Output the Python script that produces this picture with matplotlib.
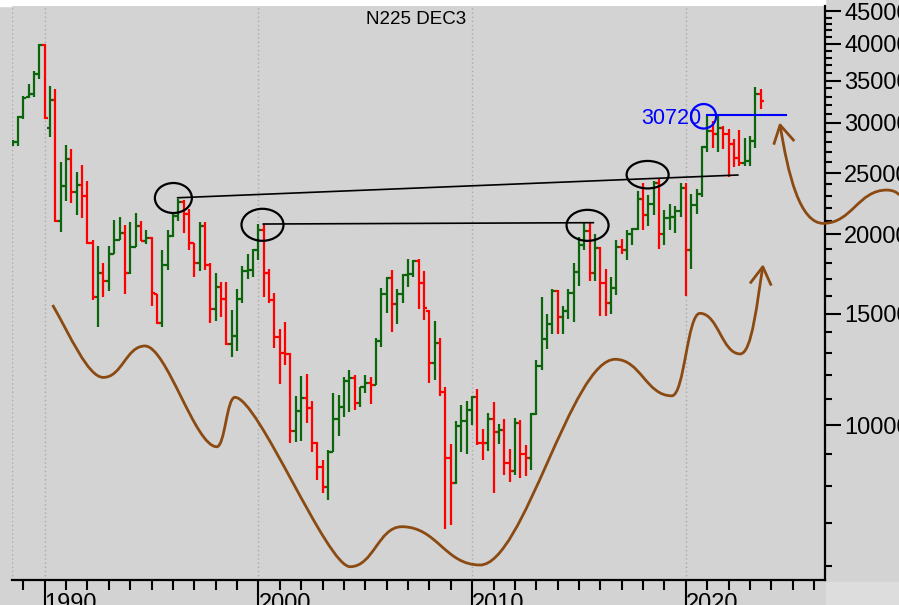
import matplotlib
matplotlib.use('Agg')
import matplotlib.pyplot as plt
import numpy as np
from matplotlib.patches import Ellipse, PathPatch, Rectangle
from matplotlib.path import Path
from matplotlib.transforms import ScaledTranslation
from matplotlib.ticker import FixedLocator, NullFormatter

plt.rcParams['font.family'] = ['Liberation Sans', 'DejaVu Sans']

# quarterly bars, first bar is 1988 Q3
first_quarter = 1988.5

opens = [27800, 28000,
         30600, 33000, 33300, 35900,
         39800, 29500, 32600, 21000,
         23850, 26300, 23300, 23900,
         23000, 19350, 15950, 17400,
         16900, 18600, 19600, 20100,
         17400, 19100, 20650, 19560,
         19720, 16100, 14500, 17900,
         19870, 21400, 22530, 21550,
         19360, 18000, 20600, 17900,
         15260, 16530, 15830, 13410,
         13840, 15840, 17530, 17600,
         18930, 20340, 17410, 15750,
         13790, 13000, 12970, 9775,
         10540, 11030, 10620, 9380,
         8580, 7970, 9080, 10220,
         10680, 11715, 11860, 10820,
         11490, 11670, 11580, 13570,
         16110, 17060, 15500, 16130,
         17230, 17290, 18140, 16790,
         15150, 12530, 13480, 11260,
         8860, 8110, 9960, 10130,
         10550, 11090, 9380, 9370,
         10230, 9755, 9816, 8700,
         8455, 10080, 9010, 8870,
         10395, 12400, 13680, 14460,
         16290, 14830, 15160, 16170,
         17450, 19210, 20240, 17390,
         19030, 16760, 15580, 16450,
         19110, 18910, 20030, 20360,
         22760, 21450, 22300, 24120,
         20010, 21210, 21280, 21760,
         23660, 18920, 22290, 23190,
         27440, 29180, 28790, 29450,
         28790, 27820, 26390, 25940,
         26090, 28040, 33300]

highs = [28200, 30800,
         33100, 34600, 36200, 40000,
         39900, 34300, 33900, 26000,
         27700, 27300, 25100, 25700,
         24300, 19600, 19200, 18000,
         19200, 21100, 21300, 20700,
         20900, 21600, 21000, 20300,
         19800, 16100, 18900, 20300,
         21700, 22750, 22700, 21900,
         19400, 20900, 20900, 18000,
         17400, 16800, 16800, 15200,
         16400, 17800, 18600, 18950,
         20800, 20750, 17650, 16150,
         14200, 14550, 13000, 11100,
         11950, 12050, 10900, 9400,
         8800, 9140, 11240, 11160,
         11900, 12200, 11990, 11500,
         11980, 11900, 13700, 16450,
         17150, 17560, 16400, 17300,
         18300, 18250, 18300, 17500,
         15200, 14600, 13700, 11480,
         9320, 10150, 10770, 10900,
         11100, 11400, 9850, 10430,
         10890, 10020, 10210, 9150,
         10250, 10190, 9290, 10430,
         12650, 15950, 15000, 16380,
         16320, 15400, 16380, 18030,
         19780, 20950, 20950, 20010,
         19100, 17610, 17100, 19590,
         19670, 20320, 20480, 23380,
         24130, 23050, 24290, 24450,
         21860, 22360, 22180, 24090,
         24120, 23190, 23560, 27600,
         30720, 30210, 30800, 29700,
         29390, 28340, 29220, 28380,
         28620, 34200, 33900]

lows = [27600, 27600,
        30400, 32900, 33000, 35200,
        30400, 28500, 20900, 20200,
        22600, 22400, 21500, 21200,
        19300, 15750, 14300, 15950,
        16300, 18600, 19600, 16100,
        17300, 19100, 19550, 19300,
        15400, 14450, 14300, 17600,
        19800, 21000, 20100, 18900,
        17150, 17500, 17600, 14500,
        14600, 14800, 13400, 12800,
        13100, 15600, 17000, 17100,
        18200, 15950, 15600, 13250,
        11600, 12450, 9380, 9400,
        9420, 10070, 9050, 8200,
        7800, 7600, 9060, 9600,
        10300, 10500, 10550, 10660,
        11250, 10780, 11550, 13300,
        15050, 14050, 14450, 15600,
        16530, 17150, 15270, 14660,
        11650, 11800, 11100, 6850,
        6950, 8080, 9050, 9000,
        10000, 9300, 8790, 9100,
        7800, 9350, 8350, 8130,
        8350, 8240, 8300, 8490,
        10380, 12200, 13200, 13900,
        13900, 13900, 14700, 14530,
        16590, 18900, 16900, 16900,
        14860, 14860, 14950, 16040,
        18650, 18220, 19240, 20300,
        20350, 20620, 21460, 18950,
        19240, 20290, 20110, 21280,
        16000, 17650, 21530, 22950,
        27000, 27390, 27010, 27290,
        24680, 25520, 25620, 25620,
        25660, 27430, 31500]

closes = [28000, 30600,
          32900, 33300, 35900, 39800,
          30500, 32600, 21000, 23850,
          26300, 23300, 23900, 23000,
          19350, 15950, 17400, 16900,
          18600, 19600, 20100, 17400,
          19100, 20650, 19560, 19720,
          16140, 14500, 17900, 19870,
          21400, 22530, 21550, 19360,
          18000, 20600, 17900, 15260,
          16530, 15830, 13410, 13840,
          15840, 17530, 17600, 18930,
          20340, 17410, 15750, 13790,
          13000, 12970, 9775, 10540,
          11030, 10620, 9380, 8580,
          7970, 9080, 10220, 10680,
          11715, 11860, 10820, 11490,
          11670, 11580, 13570, 16110,
          17060, 15500, 16130, 17230,
          17290, 18140, 16790, 15310,
          12530, 13480, 11260, 8860,
          8110, 9960, 10130, 10550,
          11090, 9380, 9370, 10230,
          9755, 9816, 8700, 8455,
          10080, 9010, 8870, 10395,
          12400, 13680, 14460, 16290,
          14830, 15160, 16170, 17450,
          19210, 20240, 17390, 19030,
          16760, 15580, 16450, 19110,
          18910, 20030, 20360, 22760,
          21450, 22300, 24120, 20010,
          21210, 21280, 21760, 23660,
          18920, 22290, 23190, 27440,
          29180, 28790, 29450, 28790,
          27820, 26390, 25940, 26090,
          28040, 33300, 32500]

# axis ticks
decade_ticks = [1990, 2000, 2010, 2020]
year_ticks = list(range(1989, 2027))
price_ticks = [10000, 15000, 20000, 25000, 30000, 35000, 40000, 45000]
price_minor = [p for p in range(6000, 46000, 1000) if p % 5000 != 0]

# hand drawn annotations (year, price)
top_line = [(1996.22, 22850), (2022.43, 24820)]
mid_line = [(2000.23, 20770), (2015.67, 20870)]
rings = [(1996.02, 22830, 0.37, 0.30),
         (2000.19, 20710, 0.42, 0.32),
         (2015.40, 20670, 0.42, 0.31),
         (2018.21, 24850, 0.42, 0.275)]
peak_label = '30720'
peak_ring = (2020.83, 30730, 0.25, 0.245)
peak_line = [(2020.98, 30900), (2024.68, 30900)]

wave_start = (1990.37, 15470)
wave_start_ctrl = [(1991.18, 13870), (1992.03, 11890)]
wave_turns = [(1992.74, 11890), (1994.69, 13330), (1998.05, 9240), (1998.90, 11060),
              (2004.29, 5974), (2006.71, 6909), (2010.37, 6011), (2016.69, 12700),
              (2019.34, 11120), (2020.66, 15010), (2022.54, 12950)]
wave_bend = [0.45, 0.3, 0.45, 0.2, 0.45, 0.45, 0.32, 0.45, 0.45, 0.45]
wave_end_ctrl = [(2023.10, 12950), (2023.34, 15750)]
wave_tip = (2023.60, 17780)
wave_barbs = [(2023.04, 16800), (2023.97, 16680)]

hook_tip = (2024.41, 29770)
hook_ctrl = [(2024.78, 24820), (2025.34, 20820)]
hook_turns = [(2026.43, 20820), (2029.40, 23500)]
hook_end_ctrl = [(2029.67, 23500), (2029.88, 23330)]
hook_end = (2029.98, 23080)
hook_barbs = [(2024.13, 27850), (2025.03, 28190)]

GREEN = '#0b650b'
RED = '#ff0000'
BROWN = '#8b4a12'
BG = '#d3d3d3'


def bend_path(start, ctrl_in, turns, bends, ctrl_out, end):
    # cubic segments, flat tangent at every turning point
    verts = [start, ctrl_in[0], ctrl_in[1], turns[0]]
    for a, b, k in zip(turns[:-1], turns[1:], bends):
        dx = b[0] - a[0]
        verts += [(a[0] + k * dx, a[1]), (b[0] - k * dx, b[1]), b]
    verts += [ctrl_out[0], ctrl_out[1], end]
    codes = [Path.MOVETO] + [Path.CURVE4] * (len(verts) - 1)
    return Path(verts, codes)


fig = plt.figure(figsize=(8.99, 6.05), dpi=100, facecolor=BG)
ax = fig.add_axes([11.5 / 899, 25 / 605, 813.5 / 899, 574 / 605])
ax.set_facecolor(BG)
fig.patches.append(Rectangle((0, 599 / 605), 825 / 899, 6 / 605,
                             transform=fig.transFigure, color='white', zorder=-1))
fig.patches.append(Rectangle((826 / 899, 0), 73 / 899, 23 / 605,
                             transform=fig.transFigure, color='#dddddd', zorder=-1))

t = first_quarter + 0.25 * np.arange(len(opens))
o = np.array(opens)
c = np.array(closes)
cols = np.where(c >= o, GREEN, RED)
ax.vlines(t, lows, highs, colors=cols, lw=1.6, zorder=3)
ax.hlines(o, t - 0.14, t, colors=cols, lw=1.6, zorder=3)
ax.hlines(c, t, t + 0.14, colors=cols, lw=1.6, zorder=3)

ax.set_yscale('log')
ax.set_xlim(1988.446, 2026.51)
ax.set_ylim(5692, 45890)

# grid
ax.grid(axis='x', which='major', color='#aaaaaa', ls=(0, (1, 2)), lw=1)
ax.axvline(1988.47, color='#aaaaaa', ls=(0, (1, 2)), lw=1)

# axes and ticks
for s in ['left', 'top']:
    ax.spines[s].set_visible(False)
for s in ['right', 'bottom']:
    ax.spines[s].set_linewidth(1.6)
ax.yaxis.tick_right()
ax.yaxis.set_major_locator(FixedLocator(price_ticks))
ax.yaxis.set_minor_locator(FixedLocator(price_minor))
ax.yaxis.set_major_formatter(matplotlib.ticker.FixedFormatter([str(p) for p in price_ticks]))
ax.yaxis.set_minor_formatter(NullFormatter())
ax.tick_params(axis='y', which='major', length=11.3, width=1.5, pad=2.4, labelsize=17)
ax.tick_params(axis='y', which='minor', length=5.3, width=1.5)
ax.set_xticks(decade_ticks)
ax.set_xticklabels([str(d) for d in decade_ticks])
ax.xaxis.set_minor_locator(FixedLocator(year_ticks))
ax.tick_params(axis='x', which='major', length=18, width=1.5, pad=-8.6, labelsize=17)
ax.tick_params(axis='x', which='minor', length=7.2, width=1.5)
for lbl in ax.get_xticklabels():
    lbl.set_ha('left')

ax.text(0.4978, 0.9686, 'N225 DEC3', transform=ax.transAxes,
        ha='center', va='baseline', fontsize=13.5)

# black trend lines and rings
for line in [top_line, mid_line]:
    xs, ys = zip(*line)
    ax.plot(xs, ys, color='black', lw=1.2, zorder=4)


def ring(x, y, w, h, color):
    tr = fig.dpi_scale_trans + ScaledTranslation(x, y, ax.transData)
    fig.add_artist(Ellipse((0, 0), w, h, transform=tr, fill=False,
                           ec=color, lw=1.6, zorder=5))


for x, y, w, h in rings:
    ring(x, y, w, h, 'black')

# blue peak marker
ring(*peak_ring, 'blue')
xs, ys = zip(*peak_line)
ax.plot(xs, ys, color='blue', lw=1.5, zorder=4, clip_on=False)
ax.text(2020.744, 29850, peak_label, color='blue', fontsize=15.5,
        ha='right', va='baseline', zorder=5)

# brown freehand curves
wave = bend_path(wave_start, wave_start_ctrl, wave_turns, wave_bend, wave_end_ctrl, wave_tip)
ax.add_patch(PathPatch(wave, fill=False, ec=BROWN, lw=2, zorder=4,
                       transform=ax.transData, clip_on=False))
hook = bend_path(hook_tip, hook_ctrl, hook_turns, [0.45], hook_end_ctrl, hook_end)
ax.add_patch(PathPatch(hook, fill=False, ec=BROWN, lw=2, zorder=4,
                       transform=ax.transData, clip_on=False))
for tip, barbs in [(wave_tip, wave_barbs), (hook_tip, hook_barbs)]:
    xs = [barbs[0][0], tip[0], barbs[1][0]]
    ys = [barbs[0][1], tip[1], barbs[1][1]]
    ax.plot(xs, ys, color=BROWN, lw=2, zorder=4, clip_on=False)

ax.set_xlim(1988.446, 2026.51)
ax.set_ylim(5692, 45890)

fig.savefig('out.png', dpi=100, facecolor=fig.get_facecolor())
